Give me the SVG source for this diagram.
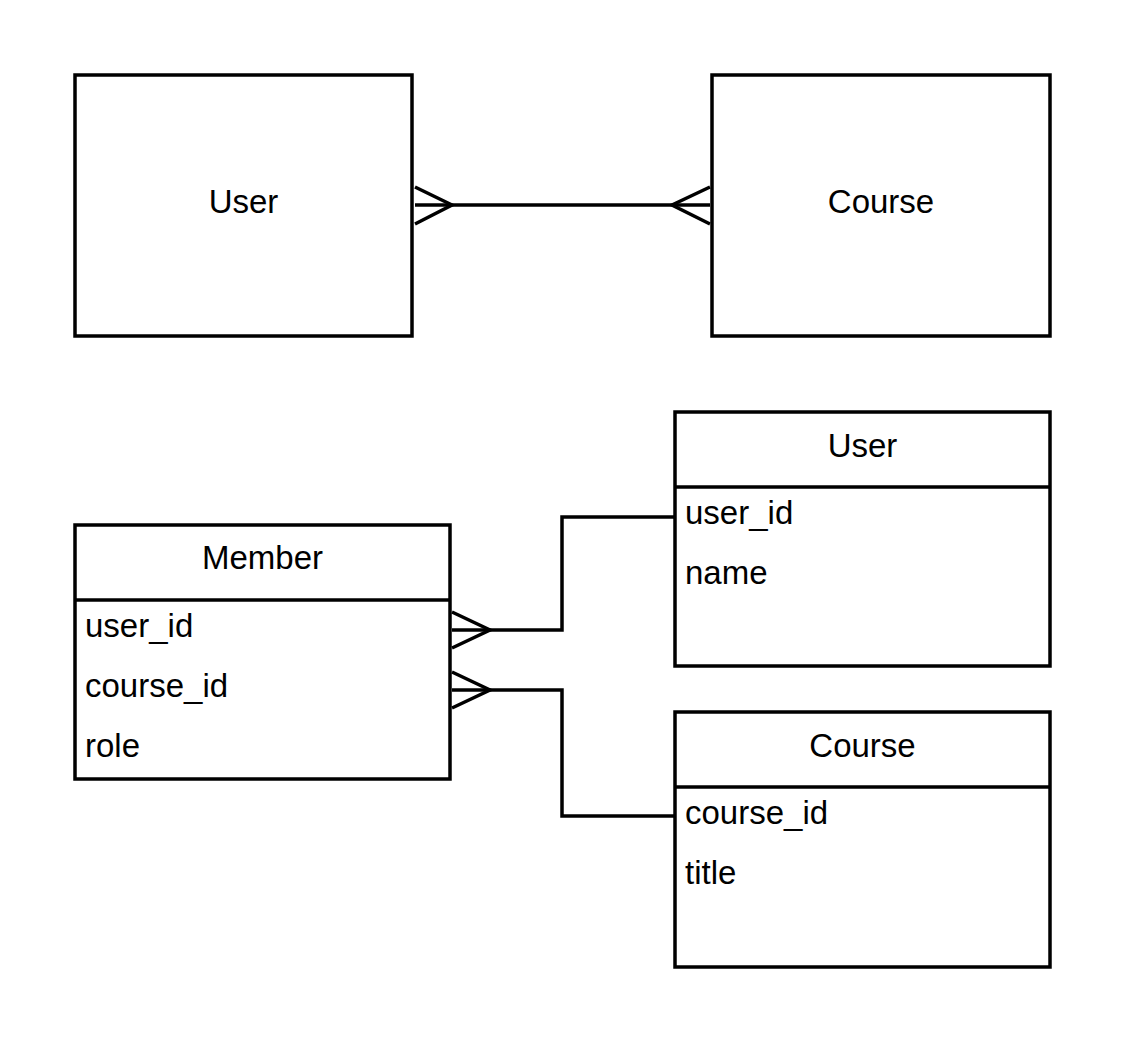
<svg xmlns="http://www.w3.org/2000/svg" width="1125" height="1043" viewBox="0 0 1125 1043">
<style>
.box{fill:#fff;stroke:#000;stroke-width:3.5}
.ln{fill:none;stroke:#000;stroke-width:3.5}
.t{font-family:"Liberation Sans",Arial,sans-serif;font-size:33px;fill:#000}
.c{text-anchor:middle}
</style>
<rect width="1125" height="1043" fill="#fff"/>
<g id="connectors">
<path class="ln" d="M415 205 H710"/>
<path class="ln" d="M415 187 L452 205 L415 224"/>
<path class="ln" d="M710 187 L672 205 L710 224"/>
<path class="ln" d="M452 630 H562 V517 H675"/>
<path class="ln" d="M452 612 L490 630 L452 648"/>
<path class="ln" d="M452 690 H562 V816 H675"/>
<path class="ln" d="M452 672 L490 690 L452 708"/>
</g>
<g id="user-entity">
<rect class="box" x="75" y="75" width="337" height="261"/>
<text class="t c" x="243.5" y="213">User</text>
</g>
<g id="course-entity">
<rect class="box" x="712" y="75" width="338" height="261"/>
<text class="t c" x="881" y="213">Course</text>
</g>
<g id="member-table">
<rect class="box" x="75" y="525" width="375" height="254"/>
<line class="ln" x1="75" y1="600" x2="450" y2="600"/>
<text class="t c" x="262.5" y="569">Member</text>
<text class="t" x="85" y="637">user_id</text>
<text class="t" x="85" y="697">course_id</text>
<text class="t" x="85" y="757">role</text>
</g>
<g id="user-table">
<rect class="box" x="675" y="412" width="375" height="254"/>
<line class="ln" x1="675" y1="487" x2="1050" y2="487"/>
<text class="t c" x="862.5" y="457">User</text>
<text class="t" x="685" y="524">user_id</text>
<text class="t" x="685" y="584">name</text>
</g>
<g id="course-table">
<rect class="box" x="675" y="712" width="375" height="255"/>
<line class="ln" x1="675" y1="787" x2="1050" y2="787"/>
<text class="t c" x="862.5" y="757">Course</text>
<text class="t" x="685" y="824">course_id</text>
<text class="t" x="685" y="884">title</text>
</g>
</svg>
